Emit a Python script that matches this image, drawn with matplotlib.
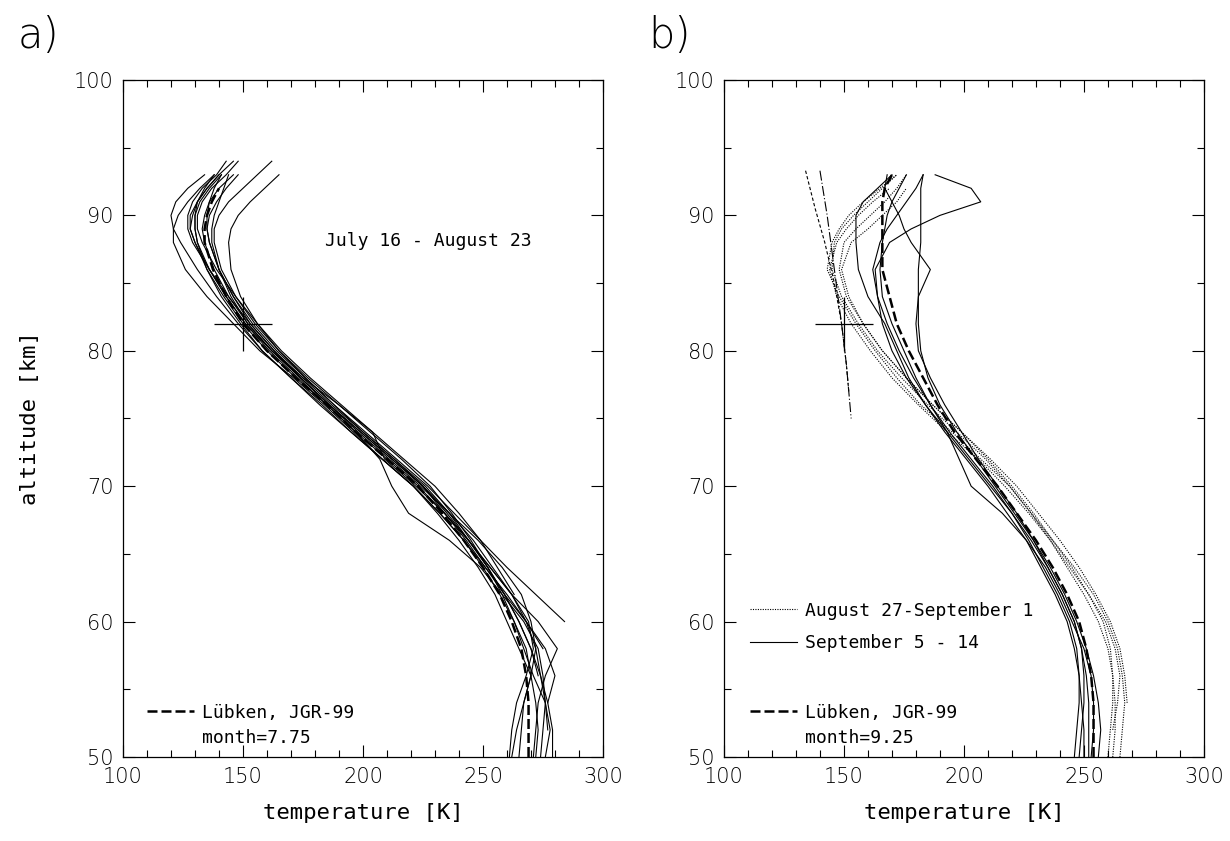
import numpy as np
import matplotlib.pyplot as plt
from matplotlib.lines import Line2D
from matplotlib.ticker import MultipleLocator

nan = np.nan

# altitude grid [km] shared by all profiles
altitude = [50, 52, 54, 56, 58, 60, 62, 64, 66, 68, 70, 72, 74, 76, 78,
            80, 82, 84, 86, 88, 89, 90, 91, 92, 93, 94]

# a) July 16 - August 23, single profiles [K]
july_profiles = [
    [262, 264, 267, 270, 268, 263, 257, 250, 242, 232, 221, 208, 195, 183, 170, 158, 149, 141, 135, 131, 130, 130, 132, 136, 141, nan],
    [276, 278, 276, 271, 267, 263, 258, 252, 244, 236, 225, 212, 199, 186, 174, 162, 152, 144, 138, 134, 133, 134, 136, 140, 146, nan],
    [nan, nan, 277, 280, 276, 268, 259, 251, 243, 234, 225, 213, 200, 187, 175, 163, 153, 144, 136, 129, 127, 127, 129, 133, 139, 143],
    [nan, nan, nan, nan, nan, 284, 272, 260, 249, 238, 227, 214, 201, 188, 176, 164, 154, 146, 140, 136, 135, 136, 139, 143, 148, nan],
    [271, 272, 273, 276, 281, 273, 262, 253, 244, 234, 223, 210, 197, 185, 172, 160, 150, 142, 135, 130, 128, 129, 131, 135, 140, nan],
    [274, 275, 276, 275, 273, 267, 258, 249, 236, 219, 212, 207, 197, 185, 173, 161, 151, 143, 136, 130, 128, 128, 131, 135, 140, 146],
    [nan, nan, nan, 273, 270, 265, 259, 252, 245, 237, 228, 216, 203, 190, 177, 165, 155, 147, 141, 138, 138, 140, 144, 150, 156, 162],
    [nan, nan, nan, nan, 275, 268, 260, 251, 242, 232, 221, 208, 195, 182, 170, 158, 148, 139, 131, 124, 121, 120, 122, 127, 134, nan],
    [272, 273, 272, 270, 265, 260, 255, 248, 240, 231, 221, 208, 196, 184, 171, 157, 146, 135, 126, 121, 121, 123, 127, 132, 138, nan],
    [279, 279, 277, 274, 270, 265, 259, 252, 244, 235, 225, 212, 199, 186, 174, 162, 152, 145, 140, 137, 137, 138, 140, 142, 144, nan],
    [265, 266, 267, 270, 272, 268, 262, 254, 246, 236, 226, 213, 200, 188, 176, 165, 156, 149, 145, 144, 145, 148, 153, 159, 165, nan],
    [nan, nan, nan, nan, nan, nan, 263, 256, 249, 240, 230, 217, 204, 191, 178, 166, 156, 147, 139, 133, 131, 131, 133, 137, 143, 148],
    [261, 262, 264, 268, 271, 269, 262, 253, 244, 234, 222, 209, 204, 190, 175, 162, 151, 143, 136, 131, 130, 130, 131, 134, 138, nan],
    [nan, 277, 276, 274, 272, 270, 266, 258, 248, 236, 224, 211, 198, 186, 174, 163, 153, 146, 140, 136, 135, 135, 136, 138, 141, nan],
]
lubken_july = [269, 269, 269, 268, 266, 262, 257, 250, 242, 233, 223, 210, 197, 185, 172, 160, 150, 143, 137.5, 134, 134, 135, 137, 140, nan, nan]

# b) August 27 - September 1 (dotted) and September 5 - 14 (solid) [K]
aug_sep_profiles = [
    [262, 263, 263, 262, 260, 256, 250, 243, 236, 228, 219, 207, 195, 182, 172, 163, 155, 148, 143, 145, 148, 152, 158, 165, 172, nan],
    [265, 266, 267, 266, 264, 260, 254, 246, 237, 228, 219, 209, 197, 185, 174, 164, 156, 149, 145, 146, 149, 154, 160, 166, 172, nan],
    [nan, 262, 264, 265, 263, 259, 252, 244, 236, 227, 217, 206, 193, 181, 170, 161, 153, 147, 144, 147, 151, 156, 162, 169, nan, nan],
    [260, 261, 262, 262, 261, 258, 252, 245, 237, 229, 220, 210, 199, 187, 176, 166, 158, 151, 148, 150, 155, 161, 167, 172, 176, nan],
    [nan, nan, 268, 267, 265, 261, 255, 248, 240, 231, 222, 211, 199, 187, 176, 166, 158, 152, 149, 153, 160, 166, 172, 176, nan, nan],
]
september_profiles = [
    [256, 257, 256, 254, 251, 247, 242, 236, 229, 221, 213, 205, 197, 190, 185, 182, 181, 181, 181, 182, 182, 182, 182, 182, 183, nan],
    [252, 252, 252, 251, 249, 246, 241, 235, 228, 220, 211, 202, 193, 184, 176, 170, 166, 164, 163, 169, 178, 190, 207, 203, 188, nan],
    [248, 249, 250, 250, 249, 246, 241, 235, 229, 222, 214, 206, 199, 192, 186, 181, 180, 181, 186, 178, 175, 173, 170, 167, 168, nan],
    [250, 250, 249, 248, 246, 243, 238, 232, 226, 218, 210, 201, 192, 184, 177, 172, 167, 160, 156, 155, 155, 155, 158, 164, 170, nan],
    [246, 247, 248, 248, 247, 244, 239, 233, 227, 220, 212, 203, 194, 186, 179, 173, 168, 164, 162, 165, 168, 172, 176, 180, 183, nan],
    [253, 254, 254, 253, 250, 245, 240, 234, 226, 216, 203, 198, 193, 186, 180, 175, 170, 166, 165, 166, 167, 168, 170, 173, 176, nan],
]
lubken_sept = [254, 254, 254, 253, 251, 248, 243, 237, 230, 222, 214, 205, 196, 189, 183, 177, 172, 169, 166, 166, 166, 166, 166, 167, 170, nan]

# two short reference lines top left of panel b
frost_a_temp = [134, 138, 142, 146, 149, 151, 152]
frost_a_alt = [93.3, 90.5, 88, 85, 82, 79, 77]
frost_b_temp = [140, 143, 146, 149, 151, 153]
frost_b_alt = [93.3, 90, 86, 82, 79, 75]

# reference mark (centre and half widths)
mark_temp, mark_temp_err = 150, 12
mark_alt, mark_alt_err = 82, 2

tick_font = dict(family="DejaVu Sans", weight="light", size=15)
mono = "DejaVu Sans Mono"
lub_dash = (0, (4, 1.6))
text_size = 13


def style_axis(ax):
    ax.set_xlim(100, 300)
    ax.set_ylim(50, 100)
    ax.xaxis.set_major_locator(MultipleLocator(50))
    ax.xaxis.set_minor_locator(MultipleLocator(10))
    ax.yaxis.set_major_locator(MultipleLocator(10))
    ax.yaxis.set_minor_locator(MultipleLocator(5))
    ax.tick_params(which="both", direction="in", top=True, right=True,
                   width=0.8, color="black")
    ax.tick_params(which="major", length=8.5, pad=7)
    ax.tick_params(which="minor", length=5)
    for lab in ax.get_xticklabels() + ax.get_yticklabels():
        lab.set_fontfamily(tick_font["family"])
        lab.set_fontweight(tick_font["weight"])
        lab.set_fontsize(tick_font["size"])
    for sp in ax.spines.values():
        sp.set_linewidth(0.9)
    ax.set_xlabel("temperature [K]", fontfamily=mono, fontsize=16,
                  labelpad=12)
    ax.errorbar([mark_temp], [mark_alt], xerr=[mark_temp_err],
                yerr=[mark_alt_err], fmt="none", ecolor="black", elinewidth=0.9)


def lubken_legend(ax, month_label, x0):
    return ax.legend(
        [Line2D([], [], color="black", lw=1.8, linestyle=lub_dash),
         Line2D([], [], color="none")],
        ["Lübken, JGR-99", month_label],
        loc="lower left", bbox_to_anchor=(x0, 0.015), frameon=False,
        prop=dict(family=mono, size=text_size), handlelength=2.6,
        handletextpad=0.45, labelspacing=0.4, borderpad=0, borderaxespad=0)


fig = plt.figure(figsize=(12.3, 8.41), dpi=100)
ax_a = fig.add_axes([0.1, 0.0999, 0.3902, 0.805])
ax_b = fig.add_axes([0.5886, 0.0999, 0.3902, 0.805])

# ---- panel a
for prof in july_profiles:
    ax_a.plot(prof, altitude, color="black", lw=0.8)
ax_a.plot(lubken_july, altitude, color="black", lw=1.8, linestyle=lub_dash)
style_axis(ax_a)
ax_a.set_ylabel("altitude [km]", fontfamily=mono, fontsize=16, labelpad=24)
ax_a.text(184, 88.1, "July 16 - August 23", fontfamily=mono,
          fontsize=text_size, va="center", ha="left")
lubken_legend(ax_a, "month=7.75", 0.05)

# ---- panel b
for prof in aug_sep_profiles:
    ax_b.plot(prof, altitude, color="black", lw=0.8, linestyle=(0, (1, 1.2)))
for prof in september_profiles:
    ax_b.plot(prof, altitude, color="black", lw=0.8)
ax_b.plot(lubken_sept, altitude, color="black", lw=1.8, linestyle=lub_dash)
ax_b.plot(frost_a_temp, frost_a_alt, color="black", lw=0.8,
          linestyle=(0, (3, 2)))
ax_b.plot(frost_b_temp, frost_b_alt, color="black", lw=0.8,
          linestyle=(0, (9, 2, 1, 2)))
style_axis(ax_b)

leg_b1 = ax_b.legend(
    [Line2D([], [], color="black", lw=0.8, linestyle=(0, (1, 1.2))),
     Line2D([], [], color="black", lw=0.8)],
    ["August 27-September 1", "September 5 - 14"],
    loc="lower left", bbox_to_anchor=(0.055, 0.155), frameon=False,
    prop=dict(family=mono, size=text_size), handlelength=2.6,
    handletextpad=0.45, labelspacing=0.8, borderpad=0, borderaxespad=0)
ax_b.add_artist(leg_b1)
lubken_legend(ax_b, "month=9.25", 0.055)

fig.text(0.014, 0.958, "a)", fontsize=30, fontweight="light", va="center")
fig.text(0.527, 0.958, "b)", fontsize=30, fontweight="light", va="center")

fig.savefig("out.png", dpi=100)
